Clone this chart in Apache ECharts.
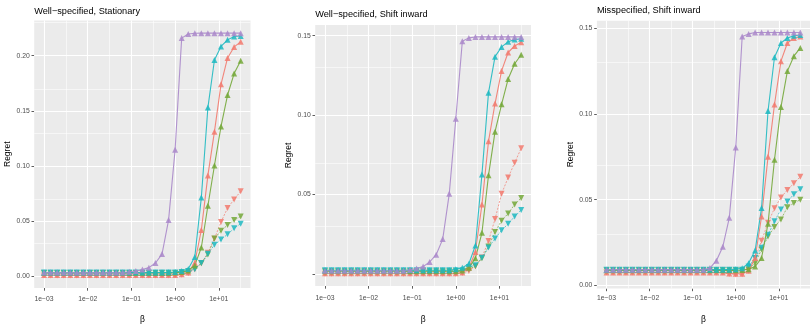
<!DOCTYPE html>
<html>
<head>
<meta charset="utf-8">
<script src="https://cdn.jsdelivr.net/npm/echarts@6/dist/echarts.min.js"></script>
<style>html,body{margin:0;padding:0;background:#fff}#c{width:810px;height:329px}</style>
</head>
<body>
<div id="c"></div>
<script>
// x positions: log10(beta)
const logBeta = [-3,-2.85,-2.7,-2.55,-2.4,-2.25,-2.1,-1.95,-1.8,-1.65,-1.5,-1.35,-1.2,-1.05,-0.9,-0.75,-0.6,-0.45,-0.3,-0.15,0,0.15,0.3,0.45,0.6,0.75,0.9,1.05,1.2,1.35,1.5];
const xMajorTicks = [-3,-2,-1,0,1];
const xTickLabels = ['1e\u221203','1e\u221202','1e\u221201','1e+00','1e+01'];
const xMinorTicks = [-2.5,-1.5,-0.5,0.5,1.5];

const panelTitles = ['Well\u2212specified, Stationary','Well\u2212specified, Shift inward','Misspecified, Shift inward'];
const yMajorTicks1 = [0,0.05,0.1,0.15,0.2];
const yTickLabels1 = ['0.00','0.05','0.10','0.15','0.20'];
const yMinorTicks1 = [0.025,0.075,0.125,0.175,0.225];
const yMajorTicks2 = [0,0.05,0.1,0.15];
const yTickLabels2 = ['','0.05','0.10','0.15'];
const yMinorTicks2 = [0.025,0.075,0.125];
const yMajorTicks3 = [0,0.05,0.1,0.15];
const yTickLabels3 = ['0.00','0.05','0.10','0.15'];
const yMinorTicks3 = [0.025,0.075,0.125];

// Panel 1: Well-specified, Stationary
const p1PurpleUp = [0.003,0.003,0.003,0.003,0.003,0.003,0.003,0.003,0.003,0.003,0.003,0.003,0.003,0.0037,0.0045,0.0057,0.0075,0.0117,0.0198,0.0507,0.1147,0.216,0.2198,0.2204,0.2205,0.2205,0.2205,0.2205,0.2205,0.2205,0.2205];
const p1CyanUp = [0.003,0.003,0.003,0.003,0.003,0.003,0.003,0.003,0.003,0.003,0.003,0.003,0.003,0.003,0.003,0.003,0.003,0.003,0.0031,0.0032,0.0035,0.0045,0.0063,0.0171,0.0712,0.1529,0.1961,0.2084,0.2144,0.2174,0.218];
const p1RedUp = [0.0008,0.0008,0.0008,0.0008,0.0008,0.0008,0.0008,0.0008,0.0008,0.0008,0.0008,0.0008,0.0008,0.0008,0.0008,0.0008,0.0008,0.0008,0.0008,0.0008,0.0008,0.0015,0.003,0.012,0.0417,0.0913,0.131,0.174,0.198,0.208,0.2126];
const p1GreenUp = [0.0027,0.0027,0.0027,0.0027,0.0027,0.0027,0.0027,0.0027,0.0027,0.0027,0.0027,0.0027,0.0027,0.0027,0.0027,0.0027,0.0027,0.0027,0.0027,0.0027,0.003,0.0035,0.005,0.0095,0.0258,0.0637,0.1003,0.1358,0.1643,0.1838,0.1955];
const p1RedDown = [0.0004,0.0004,0.0004,0.0004,0.0004,0.0004,0.0004,0.0004,0.0004,0.0004,0.0004,0.0004,0.0004,0.0004,0.0004,0.0004,0.0004,0.0004,0.0004,0.0004,0.0004,0.001,0.0025,0.006,0.0115,0.021,0.0338,0.049,0.0616,0.0695,0.0768];
const p1GreenDown = [0.0027,0.0027,0.0027,0.0027,0.0027,0.0027,0.0027,0.0027,0.0027,0.0027,0.0027,0.0027,0.0027,0.0027,0.0027,0.0027,0.0027,0.0027,0.0027,0.0027,0.0027,0.003,0.004,0.0065,0.0115,0.0195,0.034,0.041,0.0462,0.0507,0.054];
const p1CyanDown = [0.003,0.003,0.003,0.003,0.003,0.003,0.003,0.003,0.003,0.003,0.003,0.003,0.003,0.003,0.003,0.003,0.003,0.003,0.003,0.003,0.003,0.0035,0.0045,0.006,0.0117,0.02,0.0282,0.033,0.0378,0.0432,0.0474];

// Panel 2: Well-specified, Shift inward
const p2PurpleUp = [0.0021,0.0021,0.0021,0.0021,0.0021,0.0021,0.0021,0.0021,0.0021,0.0021,0.0021,0.0021,0.0021,0.0027,0.0035,0.0047,0.0076,0.0122,0.022,0.0505,0.0977,0.1465,0.1486,0.1492,0.1492,0.1492,0.1492,0.1492,0.1492,0.1492,0.1492];
const p2CyanUp = [0.0024,0.0024,0.0024,0.0024,0.0024,0.0024,0.0024,0.0024,0.0024,0.0024,0.0024,0.0024,0.0024,0.0024,0.0024,0.0024,0.0024,0.0024,0.0024,0.0024,0.003,0.004,0.0065,0.018,0.0627,0.114,0.1368,0.1429,0.1461,0.1475,0.148];
const p2RedUp = [0.0005,0.0005,0.0005,0.0005,0.0005,0.0005,0.0005,0.0005,0.0005,0.0005,0.0005,0.0005,0.0005,0.0005,0.0005,0.0005,0.0005,0.0005,0.0005,0.0005,0.0005,0.001,0.004,0.0139,0.0438,0.0835,0.1073,0.1278,0.1394,0.1435,0.1459];
const p2GreenUp = [0.0018,0.0018,0.0018,0.0018,0.0018,0.0018,0.0018,0.0018,0.0018,0.0018,0.0018,0.0018,0.0018,0.0018,0.0018,0.0018,0.0018,0.0018,0.0018,0.0018,0.0018,0.0022,0.004,0.01,0.026,0.0621,0.0896,0.1068,0.1227,0.1323,0.138];
const p2RedDown = [0.0002,0.0002,0.0002,0.0002,0.0002,0.0002,0.0002,0.0002,0.0002,0.0002,0.0002,0.0002,0.0002,0.0002,0.0002,0.0002,0.0002,0.0002,0.0002,0.0002,0.0002,0.0006,0.002,0.005,0.0105,0.0208,0.0346,0.0505,0.0607,0.07,0.0792];
const p2GreenDown = [0.0018,0.0018,0.0018,0.0018,0.0018,0.0018,0.0018,0.0018,0.0018,0.0018,0.0018,0.0018,0.0018,0.0018,0.0018,0.0018,0.0018,0.0018,0.0018,0.0018,0.0018,0.0018,0.003,0.005,0.01,0.0173,0.0265,0.0336,0.0381,0.0438,0.0479];
const p2CyanDown = [0.0024,0.0024,0.0024,0.0024,0.0024,0.0024,0.0024,0.0024,0.0024,0.0024,0.0024,0.0024,0.0024,0.0024,0.0024,0.0024,0.0024,0.0024,0.0024,0.0024,0.0024,0.0024,0.0045,0.0055,0.0102,0.0167,0.0224,0.0275,0.0316,0.0362,0.0403];

// Panel 3: Misspecified, Shift inward
const p3PurpleUp = [0.0092,0.0092,0.0092,0.0092,0.0092,0.0092,0.0092,0.0092,0.0092,0.0092,0.0092,0.0092,0.0092,0.0092,0.0092,0.0092,0.0101,0.0144,0.0226,0.0394,0.0805,0.1452,0.1467,0.1475,0.1475,0.1475,0.1475,0.1475,0.1475,0.1475,0.1475];
const p3CyanUp = [0.0092,0.0092,0.0092,0.0092,0.0092,0.0092,0.0092,0.0092,0.0092,0.0092,0.0092,0.0092,0.0092,0.0092,0.0092,0.0092,0.0092,0.0092,0.0092,0.0092,0.0095,0.01,0.013,0.0203,0.0452,0.1017,0.1331,0.1414,0.1443,0.1456,0.1461];
const p3RedUp = [0.0076,0.0076,0.0076,0.0076,0.0076,0.0076,0.0076,0.0076,0.0076,0.0076,0.0076,0.0076,0.0076,0.0076,0.0076,0.0076,0.0076,0.0076,0.0076,0.007,0.0068,0.0068,0.0085,0.016,0.0402,0.075,0.1055,0.1308,0.1414,0.1443,0.1452];
const p3GreenUp = [0.0088,0.0088,0.0088,0.0088,0.0088,0.0088,0.0088,0.0088,0.0088,0.0088,0.0088,0.0088,0.0088,0.0088,0.0088,0.0088,0.0088,0.0088,0.0088,0.0088,0.0088,0.009,0.0095,0.011,0.016,0.036,0.0733,0.104,0.125,0.1337,0.1385];
const p3RedDown = [0.0075,0.0075,0.0075,0.0075,0.0075,0.0075,0.0075,0.0075,0.0075,0.0075,0.0075,0.0075,0.0075,0.0075,0.0075,0.0075,0.0075,0.0075,0.0075,0.0066,0.0064,0.0065,0.0085,0.016,0.026,0.0366,0.045,0.0513,0.0557,0.0596,0.0634];
const p3GreenDown = [0.0088,0.0088,0.0088,0.0088,0.0088,0.0088,0.0088,0.0088,0.0088,0.0088,0.0088,0.0088,0.0088,0.0088,0.0088,0.0088,0.0088,0.0088,0.0088,0.0088,0.0088,0.0088,0.0095,0.013,0.021,0.0285,0.0341,0.0385,0.0456,0.048,0.05];
const p3CyanDown = [0.0092,0.0092,0.0092,0.0092,0.0092,0.0092,0.0092,0.0092,0.0092,0.0092,0.0092,0.0092,0.0092,0.0092,0.0092,0.0092,0.0092,0.0092,0.0092,0.0092,0.0092,0.0092,0.011,0.016,0.022,0.0295,0.0374,0.0443,0.0489,0.0532,0.0561];

// ---------- build ----------
const FONT = 'Liberation Sans';
const COL = {red:'#F27A6E', green:'#74A83A', cyan:'#1FB9C1', purple:'#AA88CA'};

const panels = [
  {title:panelTitles[0], left:34.2, top:20.5, width:216.3, height:269.7, ymin:-0.011, ymax:0.232,
   yMajor:yMajorTicks1, yLabels:yTickLabels1, yMinor:yMinorTicks1, titleTop:6.5, xLabMargin:7.8, xNameGap:27, yNameGap:19.5,
   series:[['red',p1RedUp,true],['green',p1GreenUp,true],['cyan',p1CyanUp,true],['purple',p1PurpleUp,true],['red',p1RedDown,false],['green',p1GreenDown,false],['cyan',p1CyanDown,false]]},
  {title:panelTitles[1], left:315.2, top:25, width:215.8, height:268.9, ymin:-0.0075, ymax:0.1567,
   yMajor:yMajorTicks2, yLabels:yTickLabels2, yMinor:yMinorTicks2, titleTop:10.2, xLabMargin:8.2, xNameGap:29, yNameGap:19,
   series:[['red',p2RedUp,true],['green',p2GreenUp,true],['cyan',p2CyanUp,true],['purple',p2PurpleUp,true],['red',p2RedDown,false],['green',p2GreenDown,false],['cyan',p2CyanDown,false]]},
  {title:panelTitles[2], left:596.9, top:20.7, width:215.3, height:271.6, ymin:-0.0018, ymax:0.1544,
   yMajor:yMajorTicks3, yLabels:yTickLabels3, yMinor:yMinorTicks3, titleTop:6.2, xLabMargin:6, xNameGap:26.5, yNameGap:19.5,
   series:[['red',p3RedUp,true],['green',p3GreenUp,true],['cyan',p3CyanUp,true],['purple',p3PurpleUp,true],['red',p3RedDown,false],['green',p3GreenDown,false],['cyan',p3CyanDown,false]]}
];

const option = {animation:false, backgroundColor:'#ffffff', title:[], grid:[], xAxis:[], yAxis:[], series:[]};

panels.forEach((p, pi) => {
  option.title.push({text:p.title, left:p.left, top:p.titleTop, padding:0,
    textStyle:{fontFamily:FONT, fontSize:9.2, fontWeight:'normal', color:'#000'}});
  option.grid.push({left:p.left, top:p.top, width:p.width, height:p.height, show:true,
    backgroundColor:'#EBEBEB', borderWidth:0, containLabel:false});
  option.xAxis.push({type:'value', gridIndex:pi, min:-3.225, max:1.725, position:'bottom',
    name:'\u03b2', nameLocation:'middle', nameGap:p.xNameGap,
    nameTextStyle:{fontFamily:FONT, fontSize:8.5, color:'#000'},
    axisLine:{show:false, onZero:false},
    axisTick:{show:true, length:2.7, lineStyle:{color:'#333', width:0.8}, customValues:xMajorTicks},
    axisLabel:{show:true, customValues:xMajorTicks, margin:p.xLabMargin, fontFamily:FONT, fontSize:6.8, color:'#4D4D4D',
      formatter:(v)=>{const k=xMajorTicks.findIndex(t=>Math.abs(t-v)<1e-9);return k>=0?xTickLabels[k]:'';}},
    splitLine:{show:false}});
  option.yAxis.push({type:'value', gridIndex:pi, min:p.ymin, max:p.ymax, position:'left',
    name:'Regret', nameLocation:'middle', nameGap:p.yNameGap, nameRotate:90,
    nameTextStyle:{fontFamily:FONT, fontSize:8.5, color:'#000'},
    axisLine:{show:false, onZero:false},
    axisTick:{show:true, length:2.7, lineStyle:{color:'#333', width:0.8}, customValues:p.yMajor},
    axisLabel:{show:true, customValues:p.yMajor, margin:4.5, fontFamily:FONT, fontSize:6.8, color:'#4D4D4D',
      formatter:(v)=>{const k=p.yMajor.findIndex(t=>Math.abs(t-v)<1e-9);return k>=0?p.yLabels[k]:'';}},
    splitLine:{show:false}});

  // panel grid lines (minor + major) placed through the axes' own scales
  const gridLines = [];
  xMinorTicks.forEach(v => gridLines.push({xAxis:v, lineStyle:{width:0.55}}));
  p.yMinor.forEach(v => gridLines.push({yAxis:v, lineStyle:{width:0.55}}));
  xMajorTicks.forEach(v => gridLines.push({xAxis:v, lineStyle:{width:1.1}}));
  p.yMajor.forEach(v => gridLines.push({yAxis:v, lineStyle:{width:1.1}}));
  option.series.push({type:'line', xAxisIndex:pi, yAxisIndex:pi, data:[], z:1, zlevel:0, silent:true,
    markLine:{silent:true, symbol:['none','none'], label:{show:false}, animation:false,
      lineStyle:{color:'#FFFFFF', type:'solid', opacity:1}, emphasis:{disabled:true}, data:gridLines}});

  p.series.forEach(([c, arr, up]) => {
    option.series.push({
      type:'line', xAxisIndex:pi, yAxisIndex:pi, zlevel:1,
      data: logBeta.map((x,i)=>[x, arr[i]]),
      symbol:'triangle', symbolSize:6, symbolRotate: up ? 0 : 180,
      showSymbol:true,
      itemStyle:{color:COL[c], opacity:0.85},
      lineStyle: up ? {color:COL[c], width:1.1, opacity:0.9, type:'solid'}
                    : {color:COL[c], width:0.9, opacity:0.8, type:[2,1.5]},
      z: up ? 3 : 2,
      clip:false
    });
  });
});

const chart = echarts.init(document.getElementById('c'), null, {renderer:'canvas'});
chart.setOption(option);
</script>
</body>
</html>
